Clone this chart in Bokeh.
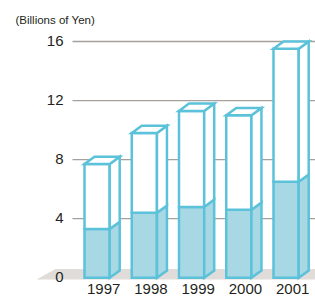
from bokeh.plotting import figure
from bokeh.models import Range1d, ColumnDataSource
from bokeh.embed import file_html
from bokeh.resources import INLINE
from bokeh.core.properties import value

# ---------------- data ----------------
years = [1997, 1998, 1999, 2000, 2001]
year_labels = ["1997", "1998", "1999", "2000", "2001"]
lower_values = [3.3, 4.4, 4.8, 4.6, 6.5]      # shaded (lower) segment
total_values = [7.7, 9.8, 11.3, 11.0, 15.5]   # total bar height
y_ticks = [0, 4, 8, 12, 16]
y_tick_labels = ["0", "4", "8", "12", "16"]
grid_values = [4, 8, 12, 16]
unit_label = "(Billions of Yen)"

# ---------------- layout (pixels) ----------------
W, H = 315, 296
PX_PER_YEAR = 47.25
X_ORIGIN_PX = 96.6        # canvas px of the 1997 front-face centre
PX_PER_UNIT = 14.77
Y0_PX = 277.3             # canvas px (from top) of value 0

X_START = 1997 - X_ORIGIN_PX / PX_PER_YEAR
X_END = X_START + W / PX_PER_YEAR
Y_END = Y0_PX / PX_PER_UNIT
Y_START = -(H - Y0_PX) / PX_PER_UNIT


def fx(px):
    return X_START + px / PX_PER_YEAR


def fy(py):
    return (Y0_PX - py) / PX_PER_UNIT


HW = 12.6 / PX_PER_YEAR      # half front width
DX = 10.0 / PX_PER_YEAR      # depth offset x
DY = 7.3 / PX_PER_UNIT       # depth offset y

EDGE = "#5bc2d9"
FILL_LOW = "#a9d8e5"
FLOOR = "#e0dcd9"
GRID = "#a7a19d"
TEXT = "#231f20"
FONT = value("Liberation Sans")

p = figure(width=W, height=H,
           x_range=Range1d(X_START, X_END), y_range=Range1d(Y_START, Y_END),
           output_backend="svg", toolbar_location=None,
           x_axis_location=None, y_axis_location=None,
           min_border=0, outline_line_color=None,
           background_fill_color="white", border_fill_color="white")
p.xgrid.visible = False
p.ygrid.visible = False

# floor
p.patch(x=[fx(36), fx(55), X_END + 1, X_END + 1],
        y=[fy(279), fy(268.5), fy(268.5), fy(279)],
        fill_color=FLOOR, line_color=None)

# gridlines
p.segment(x0=[fx(72)] * len(grid_values), x1=[X_END + 1] * len(grid_values),
          y0=grid_values, y1=grid_values, line_color=GRID, line_width=1.3)

# y tick labels
p.text(x=[fx(63)] * len(y_ticks), y=y_ticks, text=y_tick_labels,
       text_align="right", text_baseline="middle", text_font=FONT,
       text_font_size="15px", text_color=TEXT, y_offset=-0.5)

# bars
lw = 2.5
lower_front = dict(left=[x - HW for x in years], right=[x + HW for x in years],
                   bottom=[0] * len(years), top=lower_values)
upper_front = dict(left=[x - HW for x in years], right=[x + HW for x in years],
                   bottom=lower_values, top=total_values)

low_side_xs, low_side_ys = [], []
up_side_xs, up_side_ys = [], []
top_xs, top_ys = [], []
for x, lo, tot in zip(years, lower_values, total_values):
    r = x + HW
    low_side_xs.append([r, r + DX, r + DX, r])
    low_side_ys.append([0, DY, lo + DY, lo])
    up_side_xs.append([r, r + DX, r + DX, r])
    up_side_ys.append([lo, lo + DY, tot + DY, tot])
    top_xs.append([x - HW, r, r + DX, x - HW + DX])
    top_ys.append([tot, tot, tot + DY, tot + DY])

p.quad(source=ColumnDataSource(lower_front), left="left", right="right",
       bottom="bottom", top="top", fill_color=FILL_LOW, line_color=EDGE,
       line_width=lw, line_join="miter")
p.patches(xs=low_side_xs, ys=low_side_ys, fill_color=FILL_LOW,
          line_color=EDGE, line_width=lw, line_join="miter")
p.quad(source=ColumnDataSource(upper_front), left="left", right="right",
       bottom="bottom", top="top", fill_color="white", line_color=EDGE,
       line_width=lw, line_join="miter")
p.patches(xs=up_side_xs, ys=up_side_ys, fill_color="white",
          line_color=EDGE, line_width=lw, line_join="miter")
p.patches(xs=top_xs, ys=top_ys, fill_color="white",
          line_color=EDGE, line_width=lw, line_join="miter")

# year labels
p.text(x=years, y=[fy(288.0)] * len(years), text=year_labels, x_offset=6.6,
       text_align="center", text_baseline="alphabetic", text_font=FONT,
       text_font_size="15px", text_color=TEXT)

# unit label
p.text(x=[fx(15)], y=[fy(19.5)], text=[unit_label], text_align="left",
       text_baseline="middle", text_font=FONT, text_font_size="11.5px",
       text_color=TEXT)

with open("out.html", "w") as f:
    f.write(file_html(p, INLINE))
